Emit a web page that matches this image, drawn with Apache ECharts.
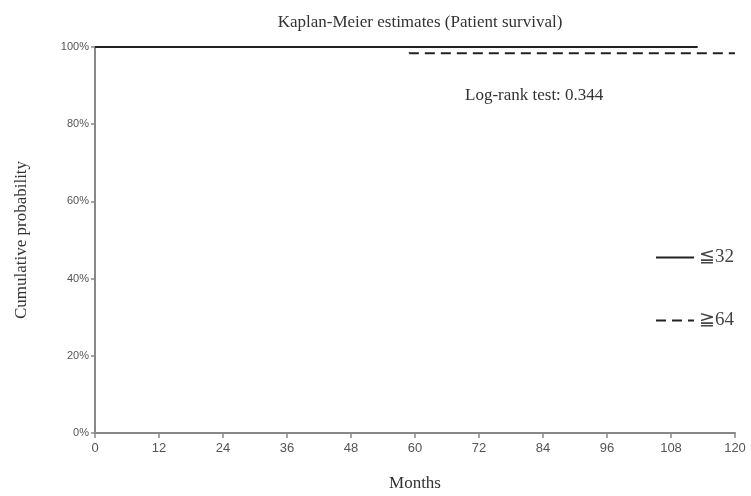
<!DOCTYPE html>
<html><head><meta charset="utf-8">
<script src="https://cdn.jsdelivr.net/npm/echarts@6/dist/echarts.min.js"></script>
<style>html,body{margin:0;padding:0;background:#fff}#c{width:751px;height:496px}</style>
</head><body><div id="c"></div>
<script>
const xTicks = [0, 12, 24, 36, 48, 60, 72, 84, 96, 108, 120];
const yTicks = [0, 20, 40, 60, 80, 100];
const group1Name = '≦32';
const group1Months = [0, 113];
const group1Surv = [100, 100];
const group2Name = '≧64';
const group2Months = [0, 59, 120];
const group2Surv = [100, 98.4, 98.4];
const annotation = 'Log-rank test: 0.344';

const serif = '"Liberation Serif", "DejaVu Serif", serif';
const chart = echarts.init(document.getElementById('c'));
chart.setOption({
  animation: false,
  backgroundColor: '#fff',
  title: {
    text: 'Kaplan-Meier estimates (Patient survival)',
    left: 415, top: 9, textAlign: 'center',
    textStyle: {fontFamily: serif, fontWeight: 'normal', fontSize: 17, color: '#333'}
  },
  grid: {left: 95, right: 16, top: 47, bottom: 63, outerBoundsMode: 'none', containLabel: false},
  xAxis: {
    type: 'value', min: xTicks[0], max: xTicks[xTicks.length - 1], interval: 12,
    name: 'Months', nameLocation: 'middle', nameGap: 42,
    nameTextStyle: {fontFamily: serif, fontSize: 17, color: '#333'},
    axisLine: {lineStyle: {color: '#888', width: 2}},
    axisTick: {show: true, length: 5, lineStyle: {color: '#888', width: 1.5}},
    axisLabel: {fontFamily: '"Liberation Sans", Arial, sans-serif', fontSize: 13, color: '#555', margin: 9},
    splitLine: {show: false}
  },
  yAxis: {
    type: 'value', min: yTicks[0], max: yTicks[yTicks.length - 1], interval: 20,
    name: 'Cumulative probability', nameLocation: 'middle', nameGap: 65,
    nameTextStyle: {fontFamily: serif, fontSize: 17, color: '#333'},
    axisLine: {show: true, lineStyle: {color: '#888', width: 2}},
    axisTick: {show: true, length: 4, lineStyle: {color: '#888', width: 1.5}},
    axisLabel: {fontFamily: '"Liberation Sans", Arial, sans-serif', fontSize: 11, color: '#555', margin: 6,
      formatter: v => v + '%'},
    splitLine: {show: false}
  },
  legend: {
    orient: 'vertical', left: 650, top: 243, itemGap: 44,
    itemWidth: 38, itemHeight: 14,
    itemStyle: {opacity: 0},
    textStyle: {fontFamily: serif, fontSize: 19, color: '#444'},
    data: [group1Name, group2Name]
  },
  graphic: [{
    type: 'text', left: 465, top: 87,
    style: {text: annotation, font: '17px ' + serif, fill: '#333'}
  }],
  series: [
    {
      name: group2Name, type: 'line', step: 'end', symbol: 'none',
      data: group2Months.map((m, i) => [m, group2Surv[i]]),
      lineStyle: {color: '#222', width: 2, type: [10, 6]},
      itemStyle: {color: '#222'}
    },
    {
      name: group1Name, type: 'line', step: 'end', symbol: 'none',
      data: group1Months.map((m, i) => [m, group1Surv[i]]),
      lineStyle: {color: '#222', width: 2, type: 'solid'},
      itemStyle: {color: '#222'}
    }
  ]
});
</script></body></html>
